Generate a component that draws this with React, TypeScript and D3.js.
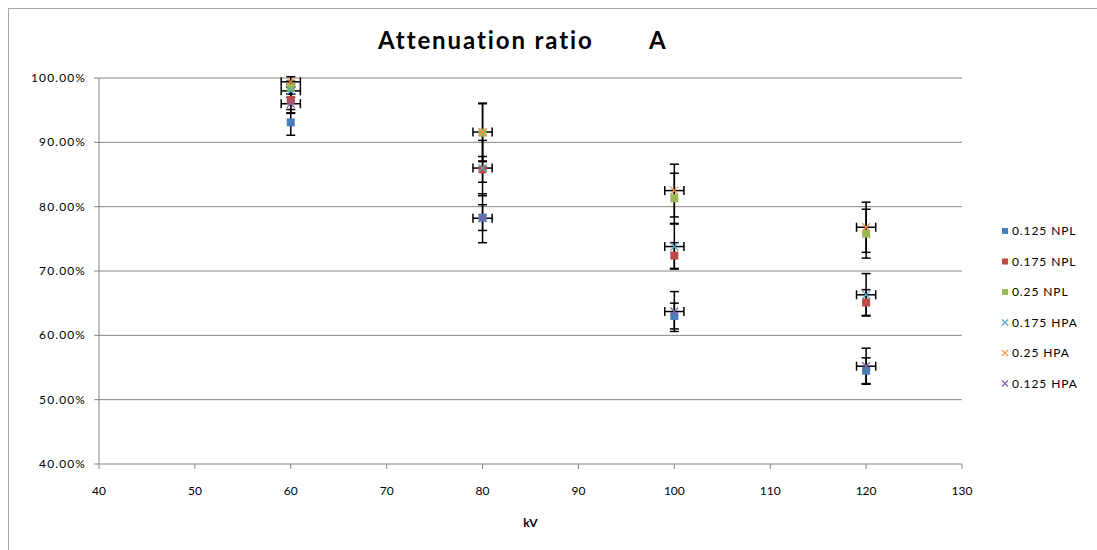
import React from "react";
import * as d3 from "d3";

const width = 1097;
const height = 550;

// kV settings measured
const kv = [60, 80, 100, 120];

// attenuation ratio (%) per series
const npl125 = [93.1, 78.3, 63.0, 54.5];
const npl175 = [96.6, 85.8, 72.4, 65.1];
const npl25 = [98.5, 91.5, 81.3, 75.8];
const hpa175 = [98.0, 86.0, 73.8, 66.3];
const hpa25 = [99.4, 91.6, 82.5, 76.8];
const hpa125 = [96.0, 78.2, 63.7, 55.2];

// vertical error (+/- %)
const npl125Err = [2.0, 2.0, 2.0, 2.0];
const npl175Err = [2.0, 2.0, 2.0, 2.0];
const npl25Err = [1.0, 4.5, 3.9, 3.8];
const hpa175Err = [1.0, 4.3, 3.5, 3.3];
const hpa25Err = [0.8, 4.5, 4.1, 3.9];
const hpa125Err = [1.5, 3.8, 3.1, 2.8];

// horizontal error (+/- kV), only on the HPA series
const hpaKvErr = 1;

const xTicks = [40, 50, 60, 70, 80, 90, 100, 110, 120, 130];
const yTicks = [40, 50, 60, 70, 80, 90, 100];

type Series = {
  name: string;
  values: number[];
  err: number[];
  xErr: number;
  color: string;
  marker: "square" | "x";
};

const series: Series[] = [
  { name: "0.125 NPL", values: npl125, err: npl125Err, xErr: 0, color: "#4a7ebb", marker: "square" },
  { name: "0.175 NPL", values: npl175, err: npl175Err, xErr: 0, color: "#be4b48", marker: "square" },
  { name: "0.25 NPL", values: npl25, err: npl25Err, xErr: 0, color: "#98b954", marker: "square" },
  { name: "0.175 HPA", values: hpa175, err: hpa175Err, xErr: hpaKvErr, color: "#4bacc6", marker: "x" },
  { name: "0.25 HPA", values: hpa25, err: hpa25Err, xErr: hpaKvErr, color: "#f79646", marker: "x" },
  { name: "0.125 HPA", values: hpa125, err: hpa125Err, xErr: hpaKvErr, color: "#8064a2", marker: "x" },
];

const font = "Lato, 'Open Sans', sans-serif";
const gridColor = "#868686";

const x = d3.scaleLinear().domain([40, 130]).range([99, 962]);
const y = d3.scaleLinear().domain([40, 100]).range([464, 78]);

function Marker({ s, cx, cy, size }: { s: Series; cx: number; cy: number; size: number }) {
  const h = size / 2;
  if (s.marker === "square") {
    return <rect x={cx - h} y={cy - h} width={size} height={size} fill={s.color} />;
  }
  return (
    <path
      d={`M${cx - h},${cy - h}L${cx + h},${cy + h}M${cx - h},${cy + h}L${cx + h},${cy - h}`}
      stroke={s.color}
      strokeWidth={1.2}
      fill="none"
    />
  );
}

export default function App() {
  const cap = 4.5;
  return (
    <svg
      width={width}
      height={height}
      style={{ position: "absolute", left: 0, top: 0, background: "#fff" }}
      fontFamily={font}
    >
      {/* chart frame */}
      <rect x={8.5} y={8.5} width={1200} height={700} fill="none" stroke="#a6a6a6" />

      <text x={378} y={49} fontSize={24} letterSpacing={1.9} fontWeight="bold" fill="#000">
        Attenuation ratio
      </text>
      <text x={649} y={49} fontSize={24} fontWeight="bold" fill="#000">
        A
      </text>

      {/* gridlines */}
      {yTicks.map(t => (
        <line key={t} x1={x(40) - 5} x2={x(130)} y1={y(t)} y2={y(t)} stroke={gridColor} />
      ))}
      <line x1={x(40)} x2={x(40)} y1={y(100)} y2={y(40)} stroke={gridColor} />
      {xTicks.map(t => (
        <line key={t} x1={x(t)} x2={x(t)} y1={y(40)} y2={y(40) + 5} stroke={gridColor} />
      ))}

      {yTicks.map(t => (
        <text
          key={t}
          x={x(40) - 13}
          y={y(t) + 4}
          fontSize={12}
          letterSpacing={1.1}
          textAnchor="end"
          fill="#000"
        >
          {d3.format(".2f")(t)}%
        </text>
      ))}
      {xTicks.map(t => (
        <text key={t} x={x(t)} y={y(40) + 31} fontSize={12} textAnchor="middle" fill="#000">
          {t}
        </text>
      ))}
      <text x={x(85)} y={527} fontSize={12} fontWeight="bold" textAnchor="middle" fill="#000">
        kV
      </text>

      {/* error bars */}
      <g stroke="#000" strokeWidth={1.5}>
        {series.map(s =>
          s.values.map((v, i) => {
            const cx = x(kv[i]);
            const top = y(v + s.err[i]);
            const bot = y(v - s.err[i]);
            return (
              <g key={s.name + i}>
                <line x1={cx} x2={cx} y1={top} y2={bot} />
                <line x1={cx - cap} x2={cx + cap} y1={top} y2={top} />
                <line x1={cx - cap} x2={cx + cap} y1={bot} y2={bot} />
                {s.xErr > 0 && (
                  <>
                    <line x1={x(kv[i] - s.xErr)} x2={x(kv[i] + s.xErr)} y1={y(v)} y2={y(v)} />
                    <line x1={x(kv[i] - s.xErr)} x2={x(kv[i] - s.xErr)} y1={y(v) - cap} y2={y(v) + cap} />
                    <line x1={x(kv[i] + s.xErr)} x2={x(kv[i] + s.xErr)} y1={y(v) - cap} y2={y(v) + cap} />
                  </>
                )}
              </g>
            );
          })
        )}
      </g>

      {/* markers */}
      {series.map(s =>
        s.values.map((v, i) => (
          <Marker key={s.name + i} s={s} cx={x(kv[i])} cy={y(v)} size={8} />
        ))
      )}

      {/* legend */}
      {series.map((s, i) => {
        const ly = 231 + i * 30.5;
        return (
          <g key={s.name}>
            <Marker s={s} cx={1005} cy={ly} size={6} />
            <text x={1012} y={ly + 4} fontSize={12} letterSpacing={0.9} fill="#000">
              {s.name}
            </text>
          </g>
        );
      })}
    </svg>
  );
}
